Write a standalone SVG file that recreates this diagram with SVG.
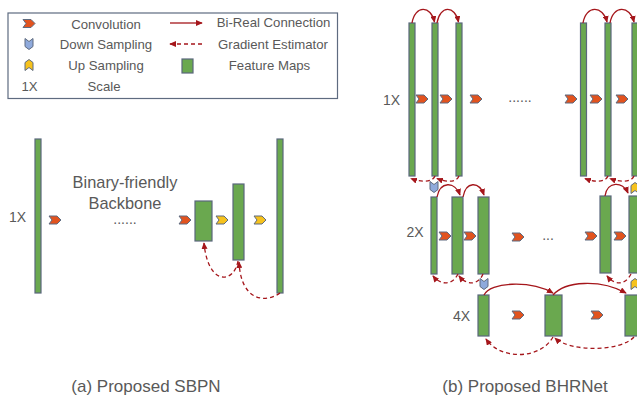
<svg xmlns="http://www.w3.org/2000/svg" width="637" height="397" viewBox="0 0 637 397">
<defs>
<style>
text{font-family:"Liberation Sans",Arial,sans-serif;fill:#595959;}
.lg{font-size:13.2px;text-anchor:middle;dominant-baseline:central;}
.sc{font-size:14px;text-anchor:middle;dominant-baseline:central;}
.cap{font-size:17px;text-anchor:middle;}
.fm{fill:#6AA84F;stroke:#5A677C;stroke-width:1.2;}
.conv{fill:#E2531E;stroke:#5E6B80;stroke-width:1;}
.down{fill:#8FAADC;stroke:#5E6B80;stroke-width:1;}
.up{fill:#F6C21D;stroke:#5E6B80;stroke-width:1;}
.br{fill:none;stroke:#A5161B;stroke-width:1.3;marker-end:url(#ah);}
.ge{fill:none;stroke:#A5161B;stroke-width:1.3;stroke-dasharray:4 3;marker-end:url(#ah);}
</style>
<marker id="ah" viewBox="0 0 8 7" refX="7" refY="3.5" markerWidth="7" markerHeight="6" markerUnits="userSpaceOnUse" orient="auto">
<path d="M0,0 L8,3.5 L0,7 Z" fill="#A5161B"/>
</marker>
<path id="cv" d="M-6,-4 L2,-4 L6,0 L2,4 L-6,4 L-3,0 Z"/>
<path id="dn" d="M-4,-5.5 L0,-2.5 L4,-5.5 L4,2.5 L0,5.5 L-4,2.5 Z"/>
<path id="upi" d="M-4,5.5 L0,2.5 L4,5.5 L4,-2.5 L0,-5.5 L-4,-2.5 Z"/>
</defs>
<rect width="637" height="397" fill="#ffffff"/>

<g id="legend">
<rect x="8" y="13" width="329.5" height="85.5" fill="none" stroke="#5E6B80" stroke-width="1.2"/>
<use href="#cv" class="conv" x="29" y="23.5"/>
<text class="lg" x="106" y="24">Convolution</text>
<use href="#dn" class="down" x="29" y="44"/>
<text class="lg" x="106" y="44">Down Sampling</text>
<use href="#upi" class="up" x="29" y="65"/>
<text class="lg" x="106" y="65.5">Up Sampling</text>
<text class="lg" x="29.5" y="86">1X</text>
<text class="lg" x="104" y="86">Scale</text>
<path class="br" d="M170,23 L202,23"/>
<text class="lg" x="273.5" y="22.5">Bi-Real Connection</text>
<path class="ge" d="M202,44 L170,44"/>
<text class="lg" x="273" y="44">Gradient Estimator</text>
<rect class="fm" x="182" y="59" width="11" height="14"/>
<text class="lg" x="269.5" y="65">Feature Maps</text>
</g>

<g id="sbpn">
<text class="sc" x="17.5" y="217">1X</text>
<rect id="a1" class="fm" x="35" y="139" width="6" height="154"/>
<use href="#cv" class="conv" x="55" y="220"/>
<text x="125" y="182" style="font-size:16.4px;text-anchor:middle;dominant-baseline:central">Binary-friendly</text>
<text x="125" y="203" style="font-size:16.4px;text-anchor:middle;dominant-baseline:central">Backbone</text>
<text x="125" y="224" style="font-size:14px;text-anchor:middle">......</text>
<use href="#cv" class="conv" x="185" y="220"/>
<rect id="a2" class="fm" x="195" y="201" width="17" height="40"/>
<use href="#cv" class="up" x="222" y="220"/>
<rect id="a3" class="fm" x="233" y="184" width="11" height="76"/>
<use href="#cv" class="up" x="260" y="220"/>
<rect id="a4" class="fm" x="277" y="139" width="6" height="154"/>
<text class="cap" x="146" y="392">(a) Proposed SBPN</text>
</g>

<g id="bhrnet">
<text class="sc" x="391.5" y="100">1X</text>
<rect class="fm" x="409" y="23" width="6" height="153"/>
<rect class="fm" x="432" y="23" width="6" height="153"/>
<rect class="fm" x="456" y="23" width="6" height="153"/>
<rect class="fm" x="580.5" y="23" width="6" height="153"/>
<rect class="fm" x="605" y="23" width="6" height="153"/>
<rect class="fm" x="632" y="23" width="6" height="153"/>
<use href="#cv" class="conv" x="422" y="99"/>
<use href="#cv" class="conv" x="446" y="99"/>
<use href="#cv" class="conv" x="476" y="99"/>
<text x="520" y="102" style="font-size:14px;text-anchor:middle">......</text>
<use href="#cv" class="conv" x="571" y="99"/>
<use href="#cv" class="conv" x="596" y="99"/>
<use href="#cv" class="conv" x="622" y="99"/>

<use href="#dn" class="down" x="434" y="187"/>
<use href="#upi" class="up" x="635" y="188"/>

<text class="sc" x="415" y="232">2X</text>
<rect class="fm" x="431" y="197" width="6" height="77"/>
<rect class="fm" x="452" y="197" width="11" height="77"/>
<rect class="fm" x="478" y="197" width="11" height="77"/>
<rect class="fm" x="600" y="196" width="11" height="77"/>
<rect class="fm" x="629" y="196" width="11" height="77"/>
<use href="#cv" class="conv" x="445" y="236"/>
<use href="#cv" class="conv" x="470" y="236"/>
<use href="#cv" class="conv" x="518" y="237"/>
<text x="548" y="240" style="font-size:14px;text-anchor:middle">...</text>
<use href="#cv" class="conv" x="591" y="236"/>
<use href="#cv" class="conv" x="620" y="236"/>

<use href="#dn" class="down" x="484" y="284"/>
<use href="#upi" class="up" x="635" y="284"/>

<text class="sc" x="461.5" y="316">4X</text>
<rect class="fm" x="478" y="295" width="11" height="41"/>
<rect class="fm" x="545" y="295" width="17" height="41"/>
<rect class="fm" x="625" y="295" width="17" height="41"/>
<use href="#cv" class="conv" x="518" y="315"/>
<use href="#cv" class="conv" x="597" y="315"/>
<text class="cap" x="525" y="392">(b) Proposed BHRNet</text>
</g>

<g id="connectors">
<path class="ge" d="M238,261 C234,284 208,286 204,243"/>
<path class="ge" d="M280,293 C266,303 241,302 239,262"/>

<path class="br" d="M412,23 C415,5 431,5 434.5,22"/>
<path class="br" d="M437,23 C440,5 455,5 458.5,22"/>
<path class="br" d="M583,23 C586,5 603,5 607,22"/>
<path class="br" d="M610,23 C613,5 630,5 634,22"/>
<path class="ge" d="M435,176 C432,183 420,182 411,178.5"/>
<path class="ge" d="M459,176 C456,183 446,182 437,178.5"/>
<path class="ge" d="M608,176 C605,183 594,182 585,178.5"/>
<path class="ge" d="M634,176 C631,183 619,182 610,178.5"/>

<path class="br" d="M437,197 C440,181 455,181 460,195"/>
<path class="br" d="M463,197 C466,181 479,181 484,195"/>
<path class="br" d="M605,196 C607,181 623,181 628,193"/>
<path class="ge" d="M458,274 C452,286 440,285 433,276"/>
<path class="ge" d="M483,274 C478,286 466,285 459,276"/>
<path class="ge" d="M631,274 C625,286 614,285 607,276"/>

<path class="br" d="M484,295 C490,282 530,280 553,293"/>
<path class="br" d="M553,295 C565,281 600,279 626,293"/>
<path class="ge" d="M553,337 C540,360 500,360 486,339"/>
<path class="ge" d="M634,337 C620,352 570,352 555,338"/>
</g>
</svg>
